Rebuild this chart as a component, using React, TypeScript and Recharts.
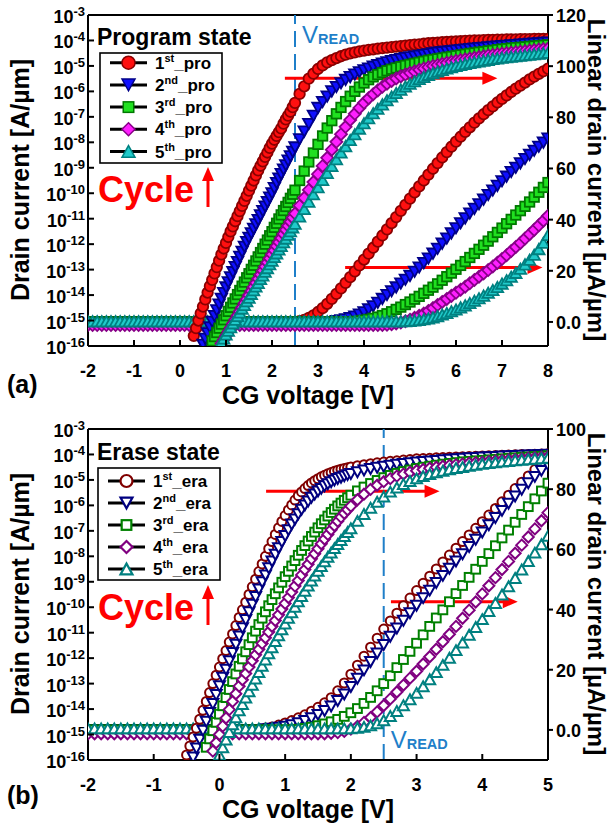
import React from 'react';
import { ComposedChart, Line, XAxis, YAxis, ReferenceLine, Legend } from 'recharts';

const FONT = '"Liberation Sans", Arial, Helvetica, sans-serif';

// gate-voltage sweep steps [V]: fine sampling on the steep part of the log curves, coarse elsewhere
const FINE_STEP = 0.05;
const COARSE_STEP = 0.1;

/* ================= Panel (a): Program state ================= */
const xTicksA = [-2, -1, 0, 1, 2, 3, 4, 5, 6, 7, 8];
const linTicksA = [0, 20, 40, 60, 80, 100, 120];
const linDomainA = [-9.4, 120];
const sweepStartA = -2;
const tailStartA = 2.6;

// log10 of drain current [A/um]
const pro1LogStart = 0.3;
const pro1LogFine = [-15.6,-15.3,-15.0,-14.72,-14.45,-14.17,-13.9,-13.65,-13.4,-13.15,-12.9,-12.65,-12.4,-12.17,-11.95,-11.72,-11.5,-11.3,-11.1,-10.9,-10.7,-10.5,-10.3,-10.1,-9.9,-9.7,-9.5,-9.3,-9.1,-8.92,-8.75,-8.57,-8.4,-8.22,-8.05,-7.9,-7.75,-7.6,-7.45,-7.27,-7.1,-6.95,-6.8,-6.62,-6.45];
const pro1LogTail = [-6.1,-5.8,-5.5,-5.3,-5.12,-4.98,-4.86,-4.77,-4.69,-4.62,-4.56,-4.51,-4.47,-4.43,-4.4,-4.37,-4.35,-4.32,-4.3,-4.28,-4.26,-4.24,-4.22,-4.2,-4.18,-4.16,-4.15,-4.13,-4.11,-4.1,-4.09,-4.07,-4.06,-4.05,-4.04,-4.03,-4.02,-4.01,-4.0,-4.0,-3.99,-3.98,-3.98,-3.97,-3.97,-3.96,-3.96,-3.96,-3.95,-3.95,-3.95,-3.94,-3.94,-3.94,-3.94];
const pro2LogStart = 0.5;
const pro2LogFine = [-15.95,-15.72,-15.5,-15.27,-15.05,-14.82,-14.6,-14.37,-14.15,-13.92,-13.7,-13.5,-13.3,-13.1,-12.9,-12.7,-12.5,-12.3,-12.1,-11.92,-11.75,-11.57,-11.4,-11.22,-11.05,-10.87,-10.7,-10.52,-10.35,-10.17,-10.0,-9.8,-9.6,-9.42,-9.25,-9.07,-8.9,-8.72,-8.55,-8.37,-8.2];
const pro2LogTail = [-7.88,-7.58,-7.28,-6.96,-6.65,-6.42,-6.2,-6.0,-5.83,-5.68,-5.55,-5.44,-5.34,-5.25,-5.17,-5.1,-5.03,-4.97,-4.91,-4.86,-4.81,-4.77,-4.73,-4.69,-4.66,-4.63,-4.6,-4.57,-4.54,-4.51,-4.48,-4.46,-4.44,-4.42,-4.4,-4.38,-4.36,-4.34,-4.32,-4.3,-4.29,-4.27,-4.25,-4.24,-4.22,-4.21,-4.19,-4.18,-4.16,-4.15,-4.13,-4.12,-4.11,-4.09,-4.08];
const pro3LogStart = 0.7;
const pro3LogFine = [-15.8,-15.63,-15.47,-15.3,-15.14,-14.97,-14.81,-14.64,-14.48,-14.31,-14.15,-13.98,-13.82,-13.65,-13.49,-13.32,-13.16,-12.99,-12.83,-12.66,-12.5,-12.33,-12.17,-12.0,-11.84,-11.67,-11.51,-11.34,-11.18,-11.01,-10.85,-10.68,-10.52,-10.36,-10.2,-10.04,-9.88];
const pro3LogTail = [-9.5,-9.13,-8.77,-8.42,-8.08,-7.75,-7.44,-7.15,-6.88,-6.63,-6.4,-6.19,-6.0,-5.83,-5.67,-5.54,-5.43,-5.34,-5.26,-5.19,-5.13,-5.08,-5.03,-4.98,-4.94,-4.9,-4.86,-4.82,-4.78,-4.75,-4.72,-4.69,-4.66,-4.63,-4.6,-4.57,-4.54,-4.51,-4.49,-4.46,-4.44,-4.41,-4.39,-4.36,-4.34,-4.32,-4.3,-4.28,-4.27,-4.25,-4.23,-4.22,-4.2,-4.19,-4.17];
const pro4LogStart = 0.9;
const pro4LogFine = [-15.9,-15.75,-15.6,-15.44,-15.28,-15.12,-14.96,-14.8,-14.64,-14.48,-14.32,-14.16,-14.0,-13.84,-13.68,-13.52,-13.36,-13.2,-13.04,-12.88,-12.72,-12.56,-12.4,-12.24,-12.08,-11.92,-11.76,-11.6,-11.44,-11.28,-11.12,-10.96,-10.8];
const pro4LogTail = [-10.49,-10.18,-9.87,-9.56,-9.25,-8.93,-8.61,-8.29,-7.98,-7.68,-7.39,-7.12,-6.88,-6.65,-6.45,-6.27,-6.11,-5.96,-5.82,-5.7,-5.59,-5.49,-5.41,-5.34,-5.27,-5.21,-5.15,-5.1,-5.05,-5.0,-4.96,-4.92,-4.88,-4.84,-4.8,-4.77,-4.74,-4.71,-4.68,-4.65,-4.62,-4.59,-4.57,-4.54,-4.52,-4.5,-4.48,-4.46,-4.44,-4.42,-4.4,-4.38,-4.36,-4.34,-4.32];
const pro5LogStart = 0.9;
const pro5LogFine = [-15.85,-15.7,-15.55,-15.4,-15.26,-15.11,-14.97,-14.82,-14.68,-14.53,-14.39,-14.24,-14.1,-13.95,-13.81,-13.66,-13.52,-13.37,-13.23,-13.08,-12.94,-12.79,-12.65,-12.5,-12.36,-12.21,-12.07,-11.92,-11.78,-11.63,-11.49,-11.34,-11.2];
const pro5LogTail = [-10.91,-10.62,-10.33,-10.04,-9.76,-9.48,-9.2,-8.93,-8.66,-8.4,-8.15,-7.91,-7.68,-7.46,-7.25,-7.05,-6.86,-6.68,-6.51,-6.35,-6.2,-6.06,-5.93,-5.81,-5.7,-5.6,-5.51,-5.43,-5.35,-5.28,-5.22,-5.16,-5.1,-5.05,-5.0,-4.96,-4.92,-4.88,-4.85,-4.82,-4.79,-4.76,-4.73,-4.71,-4.68,-4.66,-4.64,-4.62,-4.6,-4.58,-4.56,-4.54,-4.52,-4.5,-4.48];

// linear drain current [uA/um]: flat level up to the start voltage, then values (0.1 V steps)
const pro1LinFlat = 0;
const pro1LinStart = 2.6;
const pro1Lin = [0.3,0.8,1.6,2.6,3.9,5.4,7.1,9.0,11.0,13.1,15.3,17.5,19.8,22.1,24.4,26.7,29.0,31.4,33.8,36.2,38.6,41.0,43.4,45.8,48.2,50.6,53.0,55.3,57.6,59.9,62.1,64.3,66.4,68.5,70.5,72.4,74.3,76.1,77.9,79.6,81.2,82.8,84.3,85.8,87.2,88.6,89.9,91.2,92.4,93.6,94.8,95.9,97.0,98.0,99.0];
const pro2LinFlat = 0;
const pro2LinStart = 3.4;
const pro2Lin = [0.3,0.6,1.0,1.5,2.1,2.9,3.8,4.9,6.1,7.5,9.0,10.5,12.0,13.5,15.0,16.5,18.0,19.6,21.3,23.0,24.8,26.7,28.6,30.6,32.6,34.6,36.6,38.6,40.5,42.4,44.2,46.0,47.8,49.6,51.4,53.2,55.0,56.8,58.6,60.3,62.0,63.7,65.3,66.9,68.5,70.1,71.7];
const pro3LinFlat = 0;
const pro3LinStart = 3.8;
const pro3Lin = [0.2,0.4,0.7,1.0,1.4,1.9,2.5,3.2,4.0,4.9,5.8,6.8,7.8,8.9,10.0,11.2,12.4,13.6,14.9,16.3,17.7,19.1,20.6,22.1,23.6,25.2,26.8,28.4,30.0,31.6,33.3,35.0,36.7,38.4,40.1,41.8,43.5,45.2,46.9,48.8,50.7,52.6,54.5];
const pro4LinFlat = -1.2;
const pro4LinStart = 4.5;
const pro4Lin = [-1.1,-0.9,-0.6,-0.2,0.3,0.9,1.6,2.4,3.3,4.3,5.4,6.6,7.8,9.0,10.2,11.4,12.6,13.8,15.1,16.4,17.7,19.0,20.3,21.7,23.1,24.6,26.1,27.7,29.3,30.9,32.6,34.3,36.0,37.8,39.6,41.5];
const pro5LinFlat = 0.3;
const pro5LinStart = 4.9;
const pro5Lin = [0.35,0.45,0.6,0.8,1.05,1.4,1.8,2.3,2.9,3.5,4.2,4.9,5.7,6.5,7.4,8.3,9.3,10.3,11.4,12.5,13.7,15.0,16.3,17.7,19.2,20.8,22.5,24.3,26.3,28.5,31.0,34.0];

/* ================= Panel (b): Erase state ================= */
const xTicksB = [-2, -1, 0, 1, 2, 3, 4, 5];
const linTicksB = [0, 20, 40, 60, 80, 100];
const linDomainB = [-10, 100];
const sweepStartB = -2;
const tailStartB = 2.1;

const era1LogStart = -0.5;
const era1LogFine = [-15.8,-15.45,-15.1,-14.75,-14.4,-14.05,-13.7,-13.35,-13.0,-12.67,-12.35,-12.02,-11.7,-11.37,-11.05,-10.72,-10.4,-10.1,-9.8,-9.5,-9.2,-8.9,-8.6,-8.3,-8.0,-7.7,-7.42,-7.14,-6.88,-6.63,-6.4,-6.18,-5.98,-5.79,-5.62,-5.47,-5.34,-5.22,-5.12,-5.03,-4.95,-4.88,-4.82,-4.76,-4.71,-4.66,-4.62,-4.58,-4.55,-4.52,-4.49];
const era1LogTail = [-4.44,-4.4,-4.36,-4.33,-4.3,-4.27,-4.25,-4.22,-4.2,-4.17,-4.16,-4.15,-4.13,-4.12,-4.11,-4.1,-4.09,-4.08,-4.07,-4.06,-4.05,-4.04,-4.03,-4.02,-4.01,-4.0,-4.0,-3.99,-3.98,-3.97];
const era2LogStart = -0.4;
const era2LogFine = [-15.9,-15.55,-15.2,-14.85,-14.5,-14.15,-13.8,-13.45,-13.1,-12.77,-12.45,-12.12,-11.8,-11.47,-11.15,-10.82,-10.5,-10.2,-9.9,-9.6,-9.3,-9.02,-8.75,-8.47,-8.2,-7.94,-7.68,-7.44,-7.2,-6.97,-6.75,-6.55,-6.35,-6.17,-6.0,-5.85,-5.7,-5.57,-5.45,-5.35,-5.25,-5.17,-5.09,-5.02,-4.96,-4.91,-4.86,-4.81,-4.77];
const era2LogTail = [-4.7,-4.63,-4.57,-4.52,-4.48,-4.44,-4.4,-4.37,-4.34,-4.31,-4.29,-4.27,-4.25,-4.23,-4.21,-4.19,-4.17,-4.15,-4.14,-4.12,-4.11,-4.1,-4.08,-4.07,-4.06,-4.05,-4.04,-4.03,-4.02,-4.01];
const era3LogStart = -0.2;
const era3LogFine = [-15.5,-15.17,-14.85,-14.52,-14.2,-13.87,-13.55,-13.23,-12.92,-12.62,-12.32,-12.03,-11.75,-11.47,-11.2,-10.94,-10.68,-10.43,-10.18,-9.94,-9.7,-9.47,-9.24,-9.02,-8.8,-8.59,-8.38,-8.17,-7.96,-7.77,-7.58,-7.4,-7.22,-7.05,-6.88,-6.72,-6.57,-6.42,-6.28,-6.15,-6.02,-5.91,-5.8,-5.7,-5.6];
const era3LogTail = [-5.43,-5.28,-5.14,-5.02,-4.91,-4.82,-4.74,-4.67,-4.61,-4.55,-4.5,-4.46,-4.42,-4.38,-4.35,-4.32,-4.29,-4.27,-4.25,-4.23,-4.21,-4.19,-4.17,-4.15,-4.13,-4.11,-4.1,-4.08,-4.07,-4.05];
const era4LogStart = -0.1;
const era4LogFine = [-15.65,-15.32,-15.0,-14.67,-14.35,-14.02,-13.7,-13.4,-13.1,-12.85,-12.6,-12.35,-12.1,-11.87,-11.65,-11.42,-11.2,-10.97,-10.75,-10.52,-10.3,-10.07,-9.85,-9.62,-9.4,-9.17,-8.95,-8.73,-8.52,-8.31,-8.1,-7.9,-7.7,-7.51,-7.32,-7.14,-6.96,-6.79,-6.62,-6.46,-6.31,-6.17,-6.03];
const era4LogTail = [-5.78,-5.56,-5.37,-5.21,-5.07,-4.95,-4.85,-4.77,-4.7,-4.64,-4.59,-4.54,-4.5,-4.46,-4.43,-4.4,-4.37,-4.34,-4.32,-4.3,-4.27,-4.25,-4.23,-4.21,-4.19,-4.17,-4.15,-4.13,-4.11,-4.09];
const era5LogStart = 0.0;
const era5LogFine = [-15.8,-15.5,-15.2,-14.9,-14.6,-14.32,-14.05,-13.8,-13.55,-13.3,-13.05,-12.8,-12.55,-12.3,-12.05,-11.81,-11.57,-11.33,-11.1,-10.87,-10.64,-10.42,-10.2,-9.98,-9.77,-9.56,-9.35,-9.15,-8.95,-8.76,-8.57,-8.38,-8.2,-8.02,-7.85,-7.68,-7.52,-7.36,-7.2,-7.05,-6.9];
const era5LogTail = [-6.61,-6.34,-6.09,-5.86,-5.65,-5.46,-5.3,-5.16,-5.04,-4.94,-4.85,-4.77,-4.7,-4.64,-4.58,-4.53,-4.49,-4.45,-4.41,-4.37,-4.34,-4.31,-4.28,-4.26,-4.23,-4.21,-4.19,-4.17,-4.15,-4.13];

const era1LinFlat = 0;
const era1LinStart = 0.6;
const era1Lin = [0.3,0.6,1.0,1.6,2.3,3.1,4.0,5.0,6.2,7.5,9.0,10.7,13.0,15.6,18.5,21.5,24.5,27.5,30.5,33.5,36.2,38.8,41.3,43.8,46.3,48.7,51.1,53.5,55.8,58.1,60.4,62.6,64.8,67.0,69.2,71.4,73.6,75.8,78.0,80.2,82.3,84.4,86.5,88.6,90.8];
const era2LinFlat = 0;
const era2LinStart = 0.7;
const era2Lin = [0.2,0.4,0.7,1.1,1.6,2.2,3.0,3.9,5.0,6.3,7.8,9.6,11.8,14.3,17.0,19.8,22.6,25.4,28.2,31.0,33.7,36.3,38.8,41.3,43.8,46.3,48.8,51.2,53.6,56.0,58.4,60.8,63.2,65.6,68.0,70.4,72.8,75.2,77.6,79.8,82.0,84.1,86.1,88.0];
const era3LinFlat = 0;
const era3LinStart = 1.2;
const era3Lin = [0.2,0.5,0.9,1.4,2.0,2.7,3.5,4.5,5.7,7.1,8.8,10.8,13.0,15.4,18.0,20.7,23.4,26.1,28.8,31.6,34.4,37.2,39.9,42.6,45.3,48.0,50.7,53.4,56.0,58.6,61.2,63.8,66.4,69.0,71.6,74.2,76.8,79.4,82.0];
const era4LinFlat = -1.3;
const era4LinStart = 1.7;
const era4Lin = [-1.1,-0.9,-0.5,0.3,1.2,2.5,4.1,6.0,8.1,10.3,12.6,14.9,17.2,19.5,21.9,24.3,26.8,29.3,31.8,34.4,37.1,39.8,42.5,45.2,47.9,50.6,53.3,56.0,58.7,61.4,64.1,66.8,69.5,72.2];
const era5LinFlat = 0.5;
const era5LinStart = 2.0;
const era5Lin = [0.5,0.7,1.0,1.5,2.2,3.2,4.6,6.3,8.2,10.2,12.3,14.5,16.8,19.2,21.6,24.0,26.5,29.0,31.6,34.2,36.8,39.5,42.2,45.0,47.7,50.5,53.3,56.1,58.9,61.7,64.5];

/* ================= shared ================= */
const logTicks = [1e-16,1e-15,1e-14,1e-13,1e-12,1e-11,1e-10,1e-9,1e-8,1e-7,1e-6,1e-5,1e-4,1e-3];
const vRead = 2.5;
const cycleNumbers = ['1', '2', '3', '4', '5'];
const cycleSuffixes = ['st', 'nd', 'rd', 'th', 'th'];

// annotation arrows (data units: V, uA/um)
const arrowsA = [ { x1: 2.28, x2: 6.9, y: 95.3 }, { x1: 3.59, x2: 7.88, y: 21.3 } ];
const arrowsB = [ { x1: 0.71, x2: 3.35, y: 79.3 }, { x1: 2.61, x2: 4.54, y: 42.6 } ];

type LogDef = { key: string; fineStart: number; fine: number[]; tailStart: number; tail: number[] };
type LinDef = { key: string; flatFrom: number; flat: number; start: number; values: number[] };

function buildRows(logs: LogDef[], lins: LinDef[]) {
  const map = new Map<number, Record<string, number>>();
  const put = (x: number, key: string, val: number) => {
    const xr = Math.round(x * 1000) / 1000;
    if (!map.has(xr)) map.set(xr, { v: xr });
    (map.get(xr) as Record<string, number>)[key] = val;
  };
  logs.forEach((s) => {
    s.fine.forEach((e, k) => put(s.fineStart + k * FINE_STEP, s.key, Math.pow(10, e)));
    s.tail.forEach((e, k) => put(s.tailStart + k * COARSE_STEP, s.key, Math.pow(10, e)));
  });
  lins.forEach((s) => {
    const nFlat = Math.round((s.start - s.flatFrom) / COARSE_STEP);
    for (let k = 0; k < nFlat; k++) put(s.flatFrom + k * COARSE_STEP, s.key, s.flat);
    s.values.forEach((val, k) => put(s.start + k * COARSE_STEP, s.key, val));
  });
  return Array.from(map.values()).sort((a, b) => a.v - b.v);
}

const rowsA = buildRows(
  [
    { key: 'log1', fineStart: pro1LogStart, fine: pro1LogFine, tailStart: tailStartA, tail: pro1LogTail },
    { key: 'log2', fineStart: pro2LogStart, fine: pro2LogFine, tailStart: tailStartA, tail: pro2LogTail },
    { key: 'log3', fineStart: pro3LogStart, fine: pro3LogFine, tailStart: tailStartA, tail: pro3LogTail },
    { key: 'log4', fineStart: pro4LogStart, fine: pro4LogFine, tailStart: tailStartA, tail: pro4LogTail },
    { key: 'log5', fineStart: pro5LogStart, fine: pro5LogFine, tailStart: tailStartA, tail: pro5LogTail },
  ],
  [
    { key: 'lin1', flatFrom: sweepStartA, flat: pro1LinFlat, start: pro1LinStart, values: pro1Lin },
    { key: 'lin2', flatFrom: sweepStartA, flat: pro2LinFlat, start: pro2LinStart, values: pro2Lin },
    { key: 'lin3', flatFrom: sweepStartA, flat: pro3LinFlat, start: pro3LinStart, values: pro3Lin },
    { key: 'lin4', flatFrom: sweepStartA, flat: pro4LinFlat, start: pro4LinStart, values: pro4Lin },
    { key: 'lin5', flatFrom: sweepStartA, flat: pro5LinFlat, start: pro5LinStart, values: pro5Lin },
  ]
);

const rowsB = buildRows(
  [
    { key: 'log1', fineStart: era1LogStart, fine: era1LogFine, tailStart: tailStartB, tail: era1LogTail },
    { key: 'log2', fineStart: era2LogStart, fine: era2LogFine, tailStart: tailStartB, tail: era2LogTail },
    { key: 'log3', fineStart: era3LogStart, fine: era3LogFine, tailStart: tailStartB, tail: era3LogTail },
    { key: 'log4', fineStart: era4LogStart, fine: era4LogFine, tailStart: tailStartB, tail: era4LogTail },
    { key: 'log5', fineStart: era5LogStart, fine: era5LogFine, tailStart: tailStartB, tail: era5LogTail },
  ],
  [
    { key: 'lin1', flatFrom: sweepStartB, flat: era1LinFlat, start: era1LinStart, values: era1Lin },
    { key: 'lin2', flatFrom: sweepStartB, flat: era2LinFlat, start: era2LinStart, values: era2Lin },
    { key: 'lin3', flatFrom: sweepStartB, flat: era3LinFlat, start: era3LinStart, values: era3Lin },
    { key: 'lin4', flatFrom: sweepStartB, flat: era4LinFlat, start: era4LinStart, values: era4Lin },
    { key: 'lin5', flatFrom: sweepStartB, flat: era5LinFlat, start: era5LinStart, values: era5Lin },
  ]
);

/* ================= styling ================= */
type MStyle = { shape: string; fill: string; stroke: string };
const proStyles: MStyle[] = [
  { shape: 'circle', fill: '#ff1010', stroke: '#8a0000' },
  { shape: 'down', fill: '#1010ff', stroke: '#000088' },
  { shape: 'square', fill: '#20e020', stroke: '#007800' },
  { shape: 'diamond', fill: '#ff20ff', stroke: '#880088' },
  { shape: 'up', fill: '#20caca', stroke: '#008080' },
];
const eraStyles: MStyle[] = [
  { shape: 'circle', fill: '#ffffff', stroke: '#800000' },
  { shape: 'down', fill: '#ffffff', stroke: '#000080' },
  { shape: 'square', fill: '#ffffff', stroke: '#008000' },
  { shape: 'diamond', fill: '#ffffff', stroke: '#800080' },
  { shape: 'up', fill: '#ffffff', stroke: '#008080' },
];
const sizesA: Record<string, number> = { circle: 10.5, down: 11.5, square: 9.5, diamond: 12, up: 11.5 };
const sizesB: Record<string, number> = { circle: 9, down: 11, square: 8.8, diamond: 11, up: 11 };

function MarkerShape(props: { cx: number; cy: number; shape: string; size: number; fill: string; stroke: string; sw: number }) {
  const { cx, cy, shape, size, fill, stroke, sw } = props;
  const h = size / 2;
  const common = { fill, stroke, strokeWidth: sw };
  if (shape === 'circle') return <circle cx={cx} cy={cy} r={h} {...common} />;
  if (shape === 'square') return <rect x={cx - h} y={cy - h} width={size} height={size} {...common} />;
  if (shape === 'diamond') return <polygon points={`${cx},${cy - h} ${cx + h},${cy} ${cx},${cy + h} ${cx - h},${cy}`} {...common} />;
  const th = size * 0.45;
  if (shape === 'down') return <polygon points={`${cx - h},${cy - th} ${cx + h},${cy - th} ${cx},${cy + th}`} {...common} />;
  return <polygon points={`${cx - h},${cy + th} ${cx + h},${cy + th} ${cx},${cy - th}`} {...common} />;
}

const makeDot = (st: MStyle, sizes: Record<string, number>, sw: number) => (p: any) => {
  const k = `d-${p.index}`;
  if (p.cx == null || p.cy == null || !Number.isFinite(p.cx) || !Number.isFinite(p.cy) || p.value == null) return <g key={k} />;
  return <MarkerShape key={k} cx={p.cx} cy={p.cy} shape={st.shape} size={sizes[st.shape]} fill={st.fill} stroke={st.stroke} sw={sw} />;
};

const LogTick = (p: any) => {
  const { x, y, payload } = p;
  const e = Math.round(Math.log10(payload.value));
  return (
    <g>
      <line x1={x} y1={y} x2={x + 6} y2={y} stroke="#000" strokeWidth={2} />
      <text x={x - 3} y={y + 8} textAnchor="end" fontFamily={FONT} fontWeight="bold" fontSize={18} fill="#000">
        <tspan>10</tspan>
        <tspan dy={-7} fontSize={13}>{String(e)}</tspan>
      </text>
    </g>
  );
};

const LinTick = (p: any) => {
  const { x, y, payload } = p;
  return (
    <g>
      <line x1={x} y1={y} x2={x + 5} y2={y} stroke="#000" strokeWidth={2} />
      <text x={x + 8} y={y + 7} textAnchor="start" fontFamily={FONT} fontWeight="bold" fontSize={18} fill="#000">
        {payload.value === 0 ? '0.0' : String(payload.value)}
      </text>
    </g>
  );
};

const XTick = (p: any) => {
  const { x, y, payload } = p;
  return (
    <g>
      <line x1={x} y1={y} x2={x} y2={y - 6} stroke="#000" strokeWidth={2} />
      <text x={x} y={y + 31} textAnchor="middle" fontFamily={FONT} fontWeight="bold" fontSize={18} fill="#000">
        {String(payload.value)}
      </text>
    </g>
  );
};

const ArrowShape = (p: any) => {
  const { x1, y1, x2, y2 } = p;
  return (
    <g>
      <line x1={x1} y1={y1} x2={x2 - 12} y2={y2} stroke="#ff0000" strokeWidth={3} />
      <polygon points={`${x2},${y2} ${x2 - 15},${y2 - 6.5} ${x2 - 15},${y2 + 6.5}`} fill="#ff0000" />
    </g>
  );
};

const VreadLabel = (p: any) => {
  const vb = p.viewBox || {};
  const x = (vb.x ?? 0) + 7;
  const y = p.where === 'top' ? (vb.y ?? 0) + 28 : (vb.y ?? 0) + (vb.height ?? 0) - 12;
  return (
    <text x={x} y={y} fontFamily={FONT} fill="#1f7fc9">
      <tspan fontSize={24}>V</tspan>
      <tspan fontSize={14.5} fontWeight="bold" dy={0.5}>READ</tspan>
    </text>
  );
};

type LegendLayout = { titleY: number; boxX: number; boxY: number; boxW: number; boxH: number; row0: number; rowGap: number };

function LegendBox(props: { title: string; styles: MStyle[]; suffix: string; layout: LegendLayout; sizeScale: number; sw: number }) {
  const { title, styles, suffix, layout, sizeScale, sw } = props;
  const { titleY, boxX, boxY, boxW, boxH, row0, rowGap } = layout;
  return (
    <svg width={170} height={190} style={{ overflow: 'visible', display: 'block' }}>
      <text x={2} y={titleY} fontFamily={FONT} fontWeight="bold" fontSize={23} fill="#000">{title}</text>
      <rect x={boxX} y={boxY} width={boxW} height={boxH} fill="#fff" stroke="#000" strokeWidth={1.6} />
      {styles.map((st, i) => {
        const cy = row0 + i * rowGap;
        return (
          <g key={i}>
            <line x1={boxX + 10} y1={cy} x2={boxX + 47} y2={cy} stroke="#000" strokeWidth={3} />
            <MarkerShape cx={boxX + 28.5} cy={cy} shape={st.shape} size={(st.shape === 'square' ? 10.5 : 13) * sizeScale} fill={st.fill} stroke={st.stroke} sw={sw} />
            <text x={boxX + 55} y={cy + 6} fontFamily={FONT} fontWeight="bold" fontSize={17} fill="#000">
              <tspan>{cycleNumbers[i]}</tspan>
              <tspan dy={-7} fontSize={11}>{cycleSuffixes[i]}</tspan>
              <tspan dy={7}>{suffix}</tspan>
            </text>
          </g>
        );
      })}
    </svg>
  );
}

function Panel(props: {
  rows: any[]; xDomain: number[]; xTicks: number[]; linDomain: number[]; linTicks: number[];
  styles: MStyle[]; sizes: Record<string, number>; sw: number; vWhere: string;
  arrows: { x1: number; x2: number; y: number }[]; title: string; suffix: string; layout: LegendLayout;
  legendScale: number; legendSw: number;
}) {
  const { rows, xDomain, xTicks, linDomain, linTicks, styles, sizes, sw, vWhere, arrows, title, suffix, layout, legendScale, legendSw } = props;
  const keys = [1, 2, 3, 4, 5];
  return (
    <ComposedChart width={612} height={412} data={rows} margin={{ top: 15, right: 24, bottom: 36, left: 0 }}>
      <XAxis dataKey="v" type="number" domain={xDomain} ticks={xTicks} allowDataOverflow interval={0}
        height={30} tickSize={0} tickMargin={0} tickLine={false}
        axisLine={{ stroke: '#000', strokeWidth: 2 }} tick={(p: any) => <XTick {...p} />} />
      <YAxis yAxisId="log" type="number" scale="log" domain={[1e-16, 1e-3]} ticks={logTicks} allowDataOverflow interval={0}
        width={88} tickSize={0} tickMargin={0} tickLine={false}
        axisLine={{ stroke: '#000', strokeWidth: 2 }} tick={(p: any) => <LogTick {...p} />} />
      <YAxis yAxisId="lin" orientation="right" type="number" domain={linDomain} ticks={linTicks} allowDataOverflow interval={0}
        width={40} tickSize={0} tickMargin={0} tickLine={false}
        axisLine={{ stroke: '#000', strokeWidth: 2 }} tick={(p: any) => <LinTick {...p} />} />
      <Legend layout="vertical" align="center" verticalAlign="middle"
        wrapperStyle={{ left: 95, top: 0, width: 170, height: 190, lineHeight: 0 }}
        content={() => <LegendBox title={title} styles={styles} suffix={suffix} layout={layout} sizeScale={legendScale} sw={legendSw} />} />
      {keys.map((n, i) => (
        <Line key={`lin${n}`} yAxisId="lin" dataKey={`lin${n}`} type="linear" stroke={styles[i].stroke} strokeWidth={1}
          dot={makeDot(styles[i], sizes, sw)} activeDot={false} isAnimationActive={false} legendType="none" connectNulls />
      ))}
      {keys.map((n, i) => (
        <Line key={`log${n}`} yAxisId="log" dataKey={`log${n}`} type="linear" stroke={styles[i].stroke} strokeWidth={1}
          dot={makeDot(styles[i], sizes, sw)} activeDot={false} isAnimationActive={false} legendType="none" connectNulls />
      ))}
      <ReferenceLine yAxisId="lin" y={linDomain[1]} stroke="#000" strokeWidth={2} />
      <ReferenceLine yAxisId="lin" x={vRead} stroke="#1f7fc9" strokeWidth={2} strokeDasharray="16 7"
        label={<VreadLabel where={vWhere} />} />
      {arrows.map((a, i) => (
        <ReferenceLine key={`arr${i}`} yAxisId="lin" segment={[{ x: a.x1, y: a.y }, { x: a.x2, y: a.y }]} shape={ArrowShape} />
      ))}
    </ComposedChart>
  );
}

const layoutA: LegendLayout = { titleY: 45, boxX: 5, boxY: 53, boxW: 122, boxH: 110, row0: 62.7, rowGap: 22.2 };
const layoutB: LegendLayout = { titleY: 46, boxX: 3, boxY: 54, boxW: 122, boxH: 112, row0: 67, rowGap: 22 };

function CycleNote({ baseY }: { baseY: number }) {
  return (
    <g>
      <text x={98} y={baseY} fontFamily={FONT} fontWeight="bold" fontSize={36} fill="#ff0000">Cycle</text>
      <line x1={208} y1={baseY + 5} x2={208} y2={baseY - 22} stroke="#ff0000" strokeWidth={3} />
      <polygon points={`${202},${baseY - 21} ${214},${baseY - 21} ${208},${baseY - 35}`} fill="#ff0000" />
    </g>
  );
}

export default function App() {
  const titleStyle = { fontFamily: FONT, fontWeight: 'bold' as const, fontSize: 25, fill: '#000' };
  const rightTitle = { fontFamily: FONT, fontWeight: 'bold' as const, fontSize: 24, fill: '#000' };
  return (
    <div style={{ position: 'absolute', left: 0, top: 0, width: 612, height: 826, background: '#fff', overflow: 'hidden' }}>
      <div style={{ position: 'absolute', left: 0, top: 0 }}>
        <Panel rows={rowsA} xDomain={[-2, 8]} xTicks={xTicksA} linDomain={linDomainA} linTicks={linTicksA}
          styles={proStyles} sizes={sizesA} sw={1.8} vWhere="top" arrows={arrowsA}
          title="Program state" suffix="_pro" layout={layoutA} legendScale={1} legendSw={1.5} />
      </div>
      <div style={{ position: 'absolute', left: 0, top: 414 }}>
        <Panel rows={rowsB} xDomain={[-2, 5]} xTicks={xTicksB} linDomain={linDomainB} linTicks={linTicksB}
          styles={eraStyles} sizes={sizesB} sw={2} vWhere="bottom" arrows={arrowsB}
          title="Erase state" suffix="_era" layout={layoutB} legendScale={0.92} legendSw={2.2} />
      </div>
      <svg width={612} height={826} style={{ position: 'absolute', left: 0, top: 0, pointerEvents: 'none' }}>
        <text {...titleStyle} textAnchor="middle" transform="translate(29,180) rotate(-90)">Drain current [A/µm]</text>
        <text {...titleStyle} textAnchor="middle" transform="translate(29,594) rotate(-90)">Drain current [A/µm]</text>
        <text {...rightTitle} textAnchor="middle" transform="translate(588,180) rotate(90)">Linear drain current [µA/µm]</text>
        <text {...rightTitle} textAnchor="middle" transform="translate(588,594) rotate(90)">Linear drain current [µA/µm]</text>
        <text {...titleStyle} textAnchor="middle" x={308} y={404}>CG voltage [V]</text>
        <text {...titleStyle} textAnchor="middle" x={308} y={818}>CG voltage [V]</text>
        <text {...titleStyle} x={7} y={393}>(a)</text>
        <text {...titleStyle} x={7} y={804}>(b)</text>
        <CycleNote baseY={202} />
        <CycleNote baseY={620} />
      </svg>
    </div>
  );
}
